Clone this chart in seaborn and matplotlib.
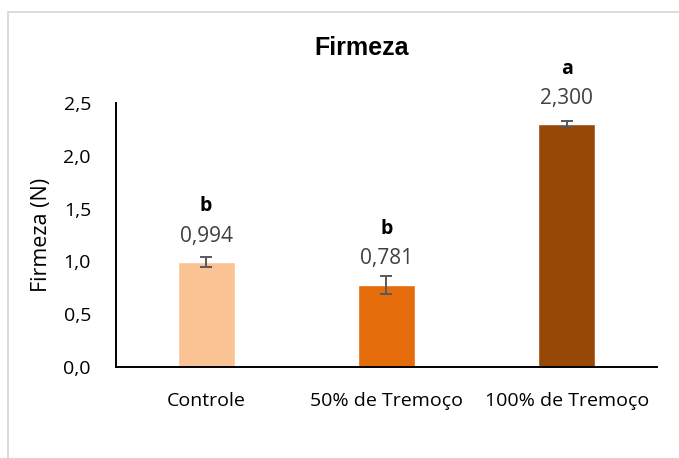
import matplotlib
matplotlib.use("Agg")
import matplotlib.pyplot as plt
import seaborn as sns
import pandas as pd
from matplotlib.patches import Rectangle

# Data
categories = ["Controle", "50% de Tremoço", "100% de Tremoço"]
values = [0.994, 0.781, 2.300]
errors = [0.05, 0.085, 0.03]
value_labels = ["0,994", "0,781", "2,300"]
letters = ["b", "b", "a"]
colors = ["#F9C394", "#E46C0A", "#974706"]
yticks = [0.0, 0.5, 1.0, 1.5, 2.0, 2.5]
ytick_labels = ["0,0", "0,5", "1,0", "1,5", "2,0", "2,5"]

df = pd.DataFrame({"trat": categories, "firmeza": values})

sns.set_style("white")
plt.rcParams["font.family"] = ["Open Sans", "DejaVu Sans"]

fig = plt.figure(figsize=(6.79, 4.58), dpi=100)
ax = fig.add_axes([0.1708, 0.1987, 0.7968, 0.5763])

sns.barplot(data=df, x="trat", y="firmeza", hue="trat", palette=colors,
            saturation=1, errorbar=None, width=0.317, legend=False, ax=ax)
ax.errorbar(range(len(categories)), values, yerr=errors, fmt="none",
            ecolor="#595959", elinewidth=1.4, capsize=4.3, capthick=1.4)

for i, (v, lab, let) in enumerate(zip(values, value_labels, letters)):
    ax.annotate(lab, (i, v), xytext=(0, 18.5), textcoords="offset points",
                ha="center", va="center", fontsize=15, color="#404040")
    ax.annotate(let, (i, v), xytext=(0, 40), textcoords="offset points",
                ha="center", va="center", fontsize=14, fontweight="bold",
                color="black")

ax.set_xlim(-0.5, 2.5)
ax.set_ylim(0, 2.5)
ax.set_yticks(yticks)
ax.set_yticklabels(ytick_labels, fontsize=14, color="black")
ax.tick_params(axis="x", labelsize=14, colors="black", pad=18, length=0)
ax.tick_params(axis="y", pad=18, length=0)
ax.set_xlabel("")
ax.set_ylabel("Firmeza (N)", fontsize=15.5, color="black", labelpad=8)
for side in ["top", "right"]:
    ax.spines[side].set_visible(False)
for side in ["left", "bottom"]:
    ax.spines[side].set_color("black")
    ax.spines[side].set_linewidth(1.4)

fig.text(0.5324, 0.895, "Firmeza", ha="center", va="center", fontsize=18,
         fontweight="bold", color="black",
         family=["Liberation Sans", "DejaVu Sans"])

# light grey chart-area frame running off the right and bottom edges
fig.patches.append(Rectangle((8 / 679, -0.05), 1.2, 1 - 12 / 458 + 0.05,
                             transform=fig.transFigure, fill=False,
                             edgecolor="#D9D9D9", linewidth=1.3))

fig.savefig("out.png", dpi=100)
